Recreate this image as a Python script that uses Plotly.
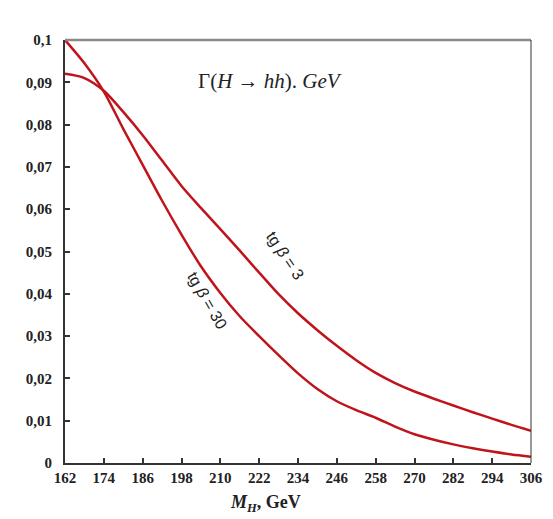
import plotly.graph_objects as go

# Data
mh = [162, 168, 174, 180, 186, 192, 198, 204, 210, 216, 222, 228, 234, 240, 246, 252, 258, 264, 270, 276, 282, 288, 294, 300, 306]
g_tb3 = [0.0920, 0.0910, 0.0880, 0.0830, 0.0775, 0.0715, 0.0655, 0.0603, 0.0553, 0.0502, 0.0450, 0.0399, 0.0354, 0.0314, 0.0277, 0.0243, 0.0213, 0.0189, 0.0169, 0.0152, 0.0136, 0.0120, 0.0105, 0.0090, 0.0076]
g_tb30 = [0.1000, 0.0945, 0.0878, 0.0790, 0.0705, 0.0620, 0.0540, 0.0465, 0.0402, 0.0347, 0.0300, 0.0255, 0.0212, 0.0175, 0.0146, 0.0125, 0.0107, 0.0086, 0.0068, 0.0055, 0.0044, 0.0035, 0.0027, 0.0020, 0.0015]

x_ticks = list(range(162, 307, 12))
y_ticks = [0, 0.01, 0.02, 0.03, 0.04, 0.05, 0.06, 0.07, 0.08, 0.09, 0.1]
y_ticktext = ["0", "0,01", "0,02", "0,03", "0,04", "0,05", "0,06", "0,07", "0,08", "0,09", "0,1"]

red = "#C0141C"
fig = go.Figure()
for ys in (g_tb3, g_tb30):
    fig.add_trace(go.Scatter(x=mh, y=ys, mode="lines",
                             line=dict(color=red, width=2.5, shape="spline", smoothing=0.8),
                             showlegend=False, hoverinfo="skip"))

tick_font = dict(family="Liberation Serif", size=15, color="#222")
fig.update_layout(
    width=553, height=519,
    margin=dict(l=65, r=10, t=40, b=56),
    paper_bgcolor="white", plot_bgcolor="white",
    xaxis=dict(range=[162, 306], tickmode="array", tickvals=x_ticks,
               ticktext=[f"<b>{v}</b>" for v in x_ticks],
               ticks="inside", ticklen=5, tickwidth=1.5, tickcolor="#333",
               showline=True, linecolor="#333", linewidth=2,
               showgrid=False, zeroline=False, tickfont=tick_font,
               ticklabeloverflow="allow"),
    yaxis=dict(range=[0, 0.1], tickmode="array", tickvals=y_ticks,
               ticktext=[f"<b>{t}</b>" for t in y_ticktext],
               ticks="inside", ticklen=5, tickwidth=1.5, tickcolor="#333",
               showline=True, linecolor="#333", linewidth=2,
               showgrid=False, zeroline=False, tickfont=tick_font,
               ticklabelstandoff=8),
    shapes=[
        dict(type="line", xref="paper", yref="paper", x0=0, x1=1, y0=1, y1=1,
             line=dict(color="#8a8a8a", width=2.5)),
        dict(type="line", xref="paper", yref="paper", x0=1, x1=1, y0=0, y1=1,
             line=dict(color="#333", width=1)),
    ],
    annotations=[
        dict(text="Γ(<i>H</i> → <i>hh</i>). <i>GeV</i>", x=0.44, y=0.936,
             xref="paper", yref="paper", showarrow=False,
             font=dict(family="Liberation Serif", size=21, color="#222")),
        dict(text="<b><i>M</i><sub><i>H</i></sub>, GeV</b>", x=0.43, y=-0.095,
             xref="paper", yref="paper", showarrow=False, yanchor="middle",
             font=dict(family="Liberation Serif", size=18, color="#222")),
        dict(text="tg <i>β</i> = 3", x=230, y=0.0490, xref="x", yref="y", textangle=56,
             showarrow=False, font=dict(family="Liberation Sans", size=16, color="#222")),
        dict(text="tg <i>β</i> = 30", x=206, y=0.0385, xref="x", yref="y", textangle=60,
             showarrow=False, font=dict(family="Liberation Sans", size=16, color="#222")),
    ],
)
fig.write_html("out.html")
